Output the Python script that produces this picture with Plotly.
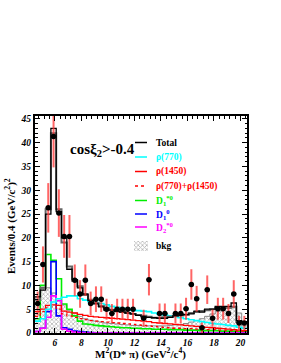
import numpy as np
import plotly.graph_objects as go

# ---------------- data ----------------
BIN_LO = 4.5
BIN_W = 0.4
N_BINS = 40

# data points (bin centre, value, error)
data_x = [4.7, 5.1, 5.5, 5.9, 6.3, 6.7, 7.1, 7.5, 7.9, 8.3, 8.7, 9.1, 9.5, 9.9, 10.3,
          10.7, 11.1, 11.5, 11.9, 12.7, 13.1, 13.9, 14.3, 15.1, 15.5, 15.9, 16.3,
          16.7, 17.1, 17.5, 17.9, 18.3, 18.7, 19.1, 19.5, 19.9, 20.3]
data_y = [6.2, 14.4, 26.3, 41.3, 25.2, 20.3, 20.3, 11.1, 8.2, 11.1, 6.2, 7.1, 7.1, 5.0, 4.1,
          5.0, 5.0, 5.0, 5.0, 3.1, 11.2, 4.1, 4.1, 4.1, 4.1, 5.1, 10.2,
          7.2, 1.1, 9.1, 3.1, 5.1, 5.1, 4.1, 8.2, 2.1, 2.1]
data_err = [2.5, 3.8, 5.2, 6.5, 5.0, 4.5, 4.5, 3.3, 2.9, 3.3, 2.5, 2.7, 2.7, 2.2, 2.0,
            2.2, 2.2, 2.2, 2.2, 1.8, 3.3, 2.1, 2.1, 2.1, 2.1, 2.3, 3.2,
            2.7, 1.1, 3.0, 1.8, 2.3, 2.3, 2.0, 2.9, 1.5, 1.5]

total = [7.6, 9.0, 25.0, 43.0, 25.5, 20.0, 13.4, 11.2, 9.5, 8.2, 6.8, 6.1, 5.5, 4.8, 4.8,
         4.5, 4.4, 4.2, 4.0, 3.7, 3.4, 3.3, 3.2, 3.1, 3.1, 3.3, 3.6, 3.8, 3.9, 4.0,
         4.6, 4.4, 5.0, 5.0, 5.6, 5.6, 5.6, 6.3, 2.6, 2.4]
total_alt = [7.0, 9.5, 26.0, 42.0, 26.0, 19.0, 14.0, 11.0, 9.8, 8.0, 7.0, 6.3, 5.7, 5.2, 4.9,
             4.6, 4.4, 4.2, 4.0, 3.8, 3.6, 3.4, 3.2, 3.2, 3.3, 3.4, 3.6, 3.7, 3.8, 4.2,
             4.4, 4.6, 4.8, 5.0, 5.3, 5.4, 5.3, 5.5, 2.3, 2.0]
rho770 = [2.5, 3.0, 5.0, 6.5, 7.2, 7.5, 7.8, 7.8, 7.2, 6.9, 6.6, 6.4, 6.2, 5.9, 5.6,
          5.4, 5.2, 5.0, 4.8, 4.7, 4.6, 4.5, 4.2, 4.0, 3.8, 3.6, 3.4, 3.2, 3.0, 2.8,
          2.6, 2.4, 2.2, 2.0, 1.9, 1.8, 1.6, 1.5, 1.2, 1.0]
rho1450 = [4.5, 5.0, 5.8, 5.9, 5.8, 4.6, 4.4, 4.2, 3.9, 3.7, 3.5, 3.4, 3.3, 3.2, 3.1,
           3.0, 2.9, 2.8, 2.7, 2.6, 2.5, 2.4, 2.2, 2.1, 2.0, 1.9, 1.8, 1.7, 1.6, 1.5,
           1.4, 1.3, 1.2, 1.1, 1.0, 0.9, 0.8, 0.7, 0.6, 0.5]
rho_sum = [3.5, 4.5, 5.3, 5.5, 5.0, 4.0, 3.6, 3.3, 3.0, 2.8, 2.6, 2.5, 2.4, 2.3, 2.2,
           2.1, 2.0, 1.9, 1.8, 1.7, 1.6, 1.5, 1.4, 1.3, 1.2, 1.1, 1.0, 1.0, 0.9, 0.9,
           0.8, 0.8, 0.7, 0.7, 0.6, 0.6, 0.5, 0.5, 0.4, 0.4]
d1star = [3.0, 10.0, 16.5, 15.3, 11.4, 6.1, 5.0, 3.6, 2.5, 1.9, 1.8, 1.6, 1.5, 1.4, 1.3,
          1.2, 1.1, 1.1, 1.0, 1.0, 0.9, 0.9, 0.8, 0.8, 0.8, 0.7, 0.7, 0.7, 0.6, 0.6,
          0.6, 0.5, 0.5, 0.5, 0.5, 0.4, 0.4, 0.4, 0.3, 0.3]
d1 = [0.3, 1.0, 4.5, 15.0, 3.6, 1.1, 0.8, 0.4, 0.3, 0.2, 0.1, 0, 0, 0, 0,
      0, 0, 0, 0, 0, 0, 0, 0, 0, 0, 0, 0, 0, 0, 0,
      0, 0, 0, 0, 0, 0, 0, 0, 0, 0]
d2star = [0.3, 1.0, 3.3, 7.8, 6.8, 0.8, 0.4, 0.2, 0.1, 0, 0, 0, 0, 0, 0,
          0, 0, 0, 0, 0, 0, 0, 0, 0, 0, 0, 0, 0, 0, 0,
          0, 0, 0, 0, 0, 0, 0, 0, 0, 0]
bkg = [7.6, 9.3, 9.5, 8.4, 6.8, 5.9, 4.8, 4.2, 3.5, 3.0, 2.7, 2.5, 2.3, 2.1, 2.0,
       1.9, 1.8, 1.7, 1.6, 1.6, 1.5, 1.5, 1.5, 1.5, 1.5, 1.6, 1.7, 1.8, 2.0, 2.3,
       2.6, 3.0, 3.5, 4.0, 4.6, 5.0, 5.2, 5.3, 4.2, 1.5]

x_ticks = [6, 8, 10, 12, 14, 16, 18, 20]
y_ticks = [0, 5, 10, 15, 20, 25, 30, 35, 40, 45]

title_text = "cosξ<sub>2</sub>>-0.4"
legend_items = [
    ("Total", "#000000", "solid"),
    ("ρ(770)", "#00ffff", "solid"),
    ("ρ(1450)", "#ff0000", "solid"),
    ("ρ(770)+ρ(1450)", "#ff0000", "dot"),
    ("D<sub>1</sub><sup>*0</sup>", "#00ee00", "solid"),
    ("D<sub>1</sub><sup>0</sup>", "#0000ff", "solid"),
    ("D<sub>2</sub><sup>*0</sup>", "#ff00ff", "solid"),
]

# ---------------- figure ----------------
edges = BIN_LO + BIN_W * np.arange(N_BINS + 1)
centers = edges[:-1] + BIN_W / 2

SERIF = "Liberation Serif, Times New Roman, serif"
HATCH = dict(shape="x", fgcolor="#666666", bgcolor="white", size=3, solidity=0.45)


def step(vals, color, width=1.6, dash="solid"):
    v = list(vals) + [vals[-1]]
    return go.Scatter(x=edges, y=v, mode="lines", line=dict(color=color, width=width, dash=dash, shape="hv"),
                      hoverinfo="skip", showlegend=False)


fig = go.Figure()
fig.add_trace(go.Bar(x=centers, y=bkg, width=BIN_W,
                     marker=dict(color="white", line=dict(width=0), pattern=HATCH),
                     hoverinfo="skip", showlegend=False))
fig.add_trace(step(bkg, "#888888", 1))
fig.add_trace(step(d1star, "#00ee00", 1.6))
fig.add_trace(step(d1, "#0000ff", 1.6))
fig.add_trace(step(d2star, "#ff00ff", 1.6))
fig.add_trace(step(rho_sum, "#ff0000", 1.3, "dot"))
fig.add_trace(step(rho1450, "#ff0000", 1.3))
fig.add_trace(step(rho770, "#00ffff", 1.6))
fig.add_trace(step(total_alt, "#666666", 2))
fig.add_trace(step(total, "#000000", 1.3))
fig.add_trace(go.Scatter(x=data_x, y=data_y, mode="markers",
                         marker=dict(color="black", size=5.5),
                         error_y=dict(type="data", array=data_err, color="rgba(255,50,50,0.75)", thickness=2, width=0),
                         error_x=dict(type="constant", value=BIN_W / 2, color="black", thickness=1, width=0),
                         hoverinfo="skip", showlegend=False))

# legend (manual)
L, R, T, B = 35, 34, 116, 30
PW, PH = 281 - L - R, 363 - T - B


def px2x(px):
    return (px - L) / PW


def py2y(py):
    return (363 - B - py) / PH


leg_y = [142.5, 157, 171.5, 186, 200.5, 214, 227]
for (txt, col, dash), yy in zip(legend_items, leg_y):
    fig.add_shape(type="line", xref="paper", yref="paper", x0=px2x(135), x1=px2x(147),
                  y0=py2y(yy), y1=py2y(yy), line=dict(color=col, width=1.5, dash=dash))
    fig.add_annotation(xref="paper", yref="paper", x=px2x(154), y=py2y(yy), text="<b>" + txt + "</b>",
                       showarrow=False, xanchor="left", yanchor="middle",
                       font=dict(family=SERIF, size=9.5, color=col))
# bkg legend swatch via a tiny bar on an auxiliary axis
fig.add_trace(go.Bar(x=[0.5], y=[1], width=1, xaxis="x2", yaxis="y2",
                     marker=dict(color="white", line=dict(width=0), pattern=HATCH),
                     hoverinfo="skip", showlegend=False))
fig.add_annotation(xref="paper", yref="paper", x=px2x(154), y=py2y(246), text="<b>bkg</b>",
                   showarrow=False, xanchor="left", yanchor="middle",
                   font=dict(family=SERIF, size=9.5, color="black"))

fig.add_annotation(xref="paper", yref="paper", x=px2x(68), y=py2y(150), text="<b>" + title_text + "</b>",
                   showarrow=False, xanchor="left", yanchor="middle",
                   font=dict(family=SERIF, size=15, color="black"))

fig.add_annotation(xref="paper", yref="paper", x=px2x(10), y=py2y(226),
                   text="<b>Events/0.4 (GeV/c<sup>2</sup>)<sup>2</sup></b>", textangle=-90,
                   showarrow=False, xanchor="center", yanchor="middle",
                   font=dict(family=SERIF, size=11, color="black"))
fig.add_annotation(xref="paper", yref="paper", x=px2x(140), y=py2y(353),
                   text="<b>M<sup>2</sup>(D* π) (GeV<sup>2</sup>/c<sup>4</sup>)</b>",
                   showarrow=False, xanchor="center", yanchor="middle",
                   font=dict(family=SERIF, size=11, color="black"))

tickfont = dict(family=SERIF, size=9.5, color="black", weight="bold", style="italic")
fig.update_layout(
    width=281, height=363,
    margin=dict(l=L, r=R, t=T, b=B),
    paper_bgcolor="white", plot_bgcolor="white",
    barmode="overlay", bargap=0,
    showlegend=False,
    xaxis=dict(range=[BIN_LO, BIN_LO + N_BINS * BIN_W], tickvals=x_ticks, ticktext=[str(v) for v in x_ticks],
               ticks="inside", ticklen=5, tickwidth=1, tickcolor="black",
               minor=dict(dtick=BIN_W, tick0=0, ticks="inside", ticklen=2.5, tickcolor="black"),
               showline=True, linewidth=2, linecolor="black", mirror="allticks",
               showgrid=False, zeroline=False, tickfont=tickfont),
    yaxis=dict(range=[0, 45.6], tickvals=y_ticks, ticktext=[str(v) for v in y_ticks],
               ticks="inside", ticklen=5, tickwidth=1, tickcolor="black",
               minor=dict(dtick=1, ticks="inside", ticklen=2.5, tickcolor="black"),
               showline=True, linewidth=2, linecolor="black", mirror="allticks",
               showgrid=False, zeroline=False, tickfont=tickfont),
    xaxis2=dict(domain=[px2x(134), px2x(148)], range=[0, 1], visible=False, anchor="y2"),
    yaxis2=dict(domain=[py2y(251), py2y(241)], range=[0, 1], visible=False, anchor="x2"),
)

fig.write_html("out.html", config={"displayModeBar": False},
               post_script="document.body.style.margin='0';document.body.style.overflow='hidden';")
